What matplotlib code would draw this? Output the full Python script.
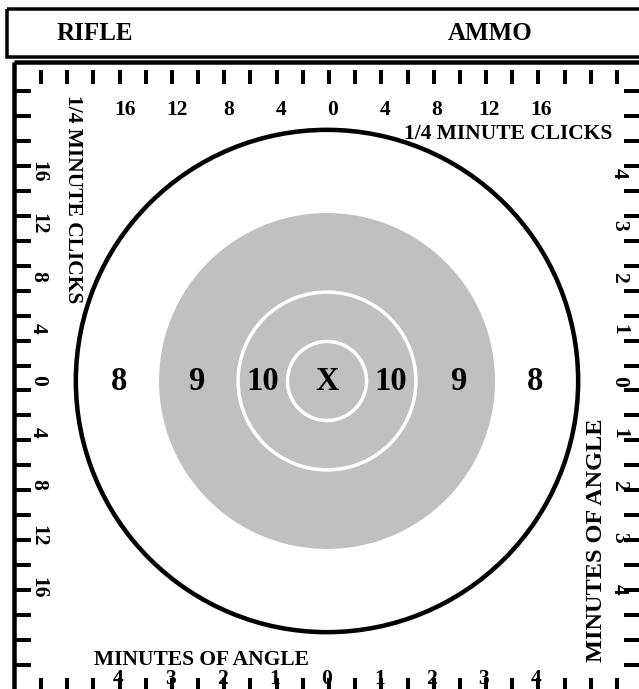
import matplotlib
matplotlib.use("Agg")
import matplotlib.pyplot as plt
from matplotlib.patches import Circle, Rectangle
import numpy as np

# ---------------- data ----------------
header_labels = ["RIFLE", "AMMO"]
ring_names = ["8", "9", "10", "X"]
ring_radius_moa = [4.83, 3.23, 1.71, 0.76]      # outer 8 ring, 9 (gray), 10, X
ring_label_moa = [4.0, 2.52, 1.23, 0.0]          # label offsets from centre
click_values = [-16, -12, -8, -4, 0, 4, 8, 12, 16]
moa_values = [-4, -3, -2, -1, 0, 1, 2, 3, 4]
click_title = "1/4 MINUTE CLICKS"
moa_title = "MINUTES OF ANGLE"

# ---------------- layout ----------------
W, H = 639, 689
PX = 52.0                     # pixels per MOA
CX, CY = 327.0, 381.0         # target centre in pixels
FONT = "Liberation Serif"
PT = 0.72                     # points per pixel at dpi 100

fig = plt.figure(figsize=(W / 100, H / 100), dpi=100)
fig.patch.set_facecolor("white")

# frame axes in pixel coordinates
fr = fig.add_axes([0, 0, 1, 1])
fr.set_xlim(0, W)
fr.set_ylim(H, 0)
fr.axis("off")

# target axes in MOA coordinates
ax = fig.add_axes([0, 0, 1, 1])
ax.set_xlim(-CX / PX, (W - CX) / PX)
ax.set_ylim((CY - H) / PX, CY / PX)
ax.set_aspect("auto")
ax.axis("off")
ax.patch.set_alpha(0)

# header box and main box
fr.add_patch(Rectangle((7, 8.5), 700, 48.5, fill=False, ec="black", lw=3.5 * PT))
fr.add_patch(Rectangle((14, 62), 700, 700, fill=False, ec="black", lw=4.5 * PT))

for txt, x in zip(header_labels, [95, 490]):
    fr.text(x, 33, txt, ha="center", va="center", fontsize=18,
            fontweight="bold", family=FONT)

# border tick marks
tx = np.linspace(41, 617, 23)
ty = np.linspace(91, 665, 24)
fr.vlines(tx, 70, 84, color="black", lw=4 * PT)
fr.vlines(tx, 678, 692, color="black", lw=4 * PT)
fr.hlines(ty, 15, 31, color="black", lw=4 * PT)
fr.hlines(ty, 624, 645, color="black", lw=4 * PT)

# target rings
gray = "#c0c0c0"
ax.add_patch(Circle((0, 0), ring_radius_moa[0], fc="white", ec="black", lw=4.5 * PT))
ax.add_patch(Circle((0, 0), ring_radius_moa[1], fc=gray, ec="none"))
ax.add_patch(Circle((0, 0), ring_radius_moa[2], fc="none", ec="white", lw=3.5 * PT))
ax.add_patch(Circle((0, 0), ring_radius_moa[3], fc="none", ec="white", lw=3.5 * PT))

for name, off in zip(ring_names, ring_label_moa):
    xs = [0.0] if off == 0 else [-off, off]
    for x in xs:
        ax.text(x, 0, name, ha="center", va="center", fontsize=23.5,
                fontweight="bold", family=FONT)

lab = dict(fontsize=15.5, fontweight="bold", family=FONT)

# top click scale
for c in click_values:
    ax.text(c / 4 + 6 / PX, (CY - 110) / PX, str(abs(c)), ha="center", va="center", **lab)
fr.text(612, 134, click_title, ha="right", va="center", **lab)

# left click scale
for c in click_values:
    ax.text((38 - CX) / PX, -c / 4 + 1 / PX, str(abs(c)), ha="center", va="center",
            rotation=-90, **lab)
fr.text(73, 199, click_title, ha="center", va="center", rotation=-90, **lab)

# right MOA scale
for m in moa_values:
    ax.text((619 - CX) / PX, -m, str(abs(m)), ha="center", va="center",
            rotation=-90, **lab)
fr.text(597, 540, moa_title, ha="center", va="center", rotation=90,
        fontsize=17.5, fontweight="bold", family=FONT)

# bottom MOA scale
for m in moa_values:
    ax.text(m * 52.25 / PX, (CY - 679) / PX, str(abs(m)), ha="center", va="center", **lab)
fr.text(201, 660, moa_title, ha="center", va="center", **lab)

fig.savefig("out.png", dpi=100, facecolor="white")
